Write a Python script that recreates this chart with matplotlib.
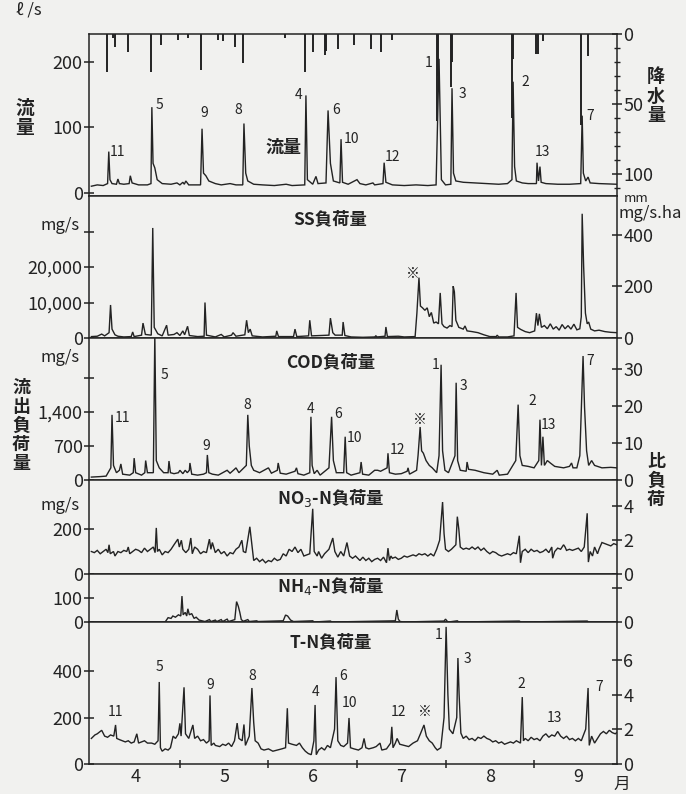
import matplotlib.pyplot as plt
import numpy as np

plt.rcParams['font.family'] = ['Noto Sans CJK JP', 'DejaVu Sans']
plt.rcParams['font.size'] = 11

INK = '#232323'
PAPER = '#f1f1ef'

# x is in days from 1 April, each month drawn 30 days wide
month_edges = [30, 60, 90, 120, 150]
month_mid = [15, 45, 75, 105, 135, 165]
month_names = ['4', '5', '6', '7', '8', '9']

# 流量 (l/s)
flow = [(0, 10), (2, 12), (4, 11), (5.5, 14), (5.9, 63), (6.3, 20), (7, 14), (8.5, 13),
        (9, 21), (9.5, 14), (11, 13), (12.8, 14), (13.2, 26), (13.8, 15), (16, 12), (19, 12),
        (20.2, 14), (20.5, 131), (20.9, 45), (21.5, 38), (22.3, 20), (24, 14), (27, 13),
        (29, 15), (30, 12), (31, 16), (31.5, 13), (32, 18), (33, 12), (37, 12), (37.5, 98),
        (38, 30), (38.8, 26), (39.8, 18), (42, 14), (44, 12), (47, 14), (49, 12), (51.3, 12),
        (51.7, 106), (52.3, 30), (53, 18), (55, 13), (58, 12), (62, 11), (66, 13), (68, 11),
        (72.3, 12), (72.7, 149), (73.2, 20), (75, 13), (76.1, 25), (76.8, 14), (79.5, 15),
        (80.2, 126), (81, 45), (82, 18), (84.2, 15), (84.6, 82), (85.1, 16), (87, 13),
        (90, 20), (91, 14), (93, 12), (95.4, 15), (96, 12), (98.8, 14), (99.2, 46), (99.8, 16),
        (102, 12), (106, 11), (110, 12), (114, 11), (116.8, 12), (117.8, 205), (118.6, 20),
        (120, 12), (121.8, 13), (122.2, 160), (122.7, 30), (123.5, 18), (126, 16), (130, 15),
        (134, 14), (138, 13), (141, 14), (142.5, 20), (142.9, 170), (143.4, 40), (144, 18),
        (146, 15), (148, 14), (150.8, 14), (151, 46), (151.5, 18), (152, 40), (152.4, 16),
        (154, 14), (158, 13), (162, 13), (165.8, 14), (166.3, 118), (166.7, 30), (167.5, 18),
        (168.3, 24), (169, 15), (172, 14), (178, 13)]

# 降水量 (mm)
rain = [(5.3, 27), (7.3, 3), (8.0, 9), (12.4, 13), (20.2, 27), (23.6, 8), (29.3, 4),
        (32.7, 3), (37.1, 26), (42.9, 4), (44.6, 5), (48.6, 9), (51.4, 21), (65.6, 3),
        (72.4, 27), (75.1, 13), (79.2, 15), (79.6, 12), (83.6, 11), (89.0, 8), (94.7, 11),
        (98.1, 13), (101.9, 4), (117.1, 62), (117.5, 30), (121.9, 38), (122.2, 20),
        (142.5, 60), (142.8, 18), (150.7, 14), (151.4, 14), (153.1, 5), (166.0, 65),
        (168.3, 16)]

# SS負荷量 (mg/s)
ss = [(0, 400), (2, 500), (3.5, 1100), (4.5, 600), (6, 1500), (6.5, 9300), (7, 2500),
      (8, 900), (9, 500), (11, 300), (13.5, 400), (14, 1700), (14.5, 400), (17, 800),
      (17.5, 4200), (18.3, 1000), (20.3, 800), (20.8, 31000), (21.3, 3000), (22.5, 1200),
      (24, 600), (25.5, 3600), (26, 800), (28, 1000), (29, 1500), (30, 700), (31, 2000),
      (31.6, 900), (32.6, 3300), (33.2, 700), (36, 400), (38.2, 500), (38.5, 10000),
      (39, 800), (42, 300), (44, 1000), (45, 300), (47.5, 800), (48, 1500), (49, 500),
      (52, 900), (52.6, 5000), (53.2, 1500), (53.8, 2500), (54.5, 600), (58, 300),
      (62.5, 500), (62.8, 2000), (63.4, 400), (68.5, 400), (69, 2500), (69.6, 400),
      (73.6, 600), (74, 5000), (74.6, 600), (80.5, 800), (81, 5600), (81.8, 1500),
      (82.6, 800), (85, 800), (85.3, 4500), (85.9, 700), (88, 300), (92, 200), (96, 300),
      (96.4, 600), (96.8, 300), (99.5, 500), (99.8, 3100), (100.3, 400), (104, 500),
      (106, 300), (109.7, 400), (110.3, 7000), (111, 17000), (111.5, 9000), (112.2, 8500),
      (113, 7800), (113.8, 8500), (114.5, 6000), (115.2, 7200), (116, 4200), (116.8, 4500),
      (117.6, 4000), (118.2, 12700), (118.8, 4000), (119.5, 3200), (120.5, 2800),
      (121.5, 3500), (122.2, 3200), (122.6, 14600), (123, 13000), (123.5, 5000),
      (124.5, 3000), (126, 2500), (126.6, 3400), (127.3, 2000), (129, 1800), (131, 1500),
      (133, 900), (135, 400), (137.2, 400), (137.5, 800), (138, 300), (141, 300),
      (143.2, 600), (143.9, 12700), (144.4, 3000), (145.5, 2400), (147, 1800),
      (148.5, 1500), (150.2, 2000), (150.8, 7000), (151.3, 3500), (151.8, 6800),
      (152.5, 3000), (153.5, 3500), (154.5, 2600), (155.5, 4000), (156.5, 2500),
      (157.5, 3200), (158.5, 2200), (159.5, 3800), (160.5, 2600), (161.5, 3500),
      (162.5, 2500), (163.5, 3900), (164.5, 2300), (165.5, 2600), (166.0, 6000),
      (166.3, 35000), (166.8, 20000), (167.4, 7000), (168, 4000), (168.5, 4500),
      (169.2, 2500), (170.5, 2000), (172, 2200), (174, 1800), (176, 1600), (178, 1500)]

# COD負荷量 (mg/s)
cod = [(0, 60), (3, 70), (5, 80), (6.6, 250), (7, 1340), (7.5, 300), (8.5, 150), (9.5, 200),
       (10, 330), (10.6, 120), (13, 100), (14.2, 150), (14.5, 450), (15, 150), (17, 100),
       (18.1, 150), (18.4, 400), (19, 150), (21, 150), (21.5, 3000), (22, 400), (23, 250),
       (24.5, 150), (26, 150), (26.3, 390), (26.8, 150), (28, 130), (29.5, 150), (30, 200),
       (31, 130), (31.8, 200), (32.5, 150), (33.2, 200), (33.4, 350), (34, 120), (36, 100),
       (38, 120), (39, 150), (39.3, 515), (39.8, 150), (41, 120), (43, 100), (44.5, 150),
       (46, 200), (47, 140), (48.5, 220), (49, 250), (50, 150), (52.5, 300), (53, 1340),
       (53.5, 700), (54.2, 300), (55, 200), (57, 150), (60, 250), (61, 140), (63, 200),
       (63.3, 350), (64, 140), (66, 120), (69, 180), (69.5, 250), (70, 130), (72, 100),
       (74, 150), (74.4, 1300), (74.8, 300), (75.5, 130), (76.5, 200), (77.5, 100),
       (80.5, 250), (81.4, 1300), (82, 400), (83, 150), (85.5, 150), (86, 890), (86.5, 150),
       (88, 100), (91, 150), (91.4, 370), (91.9, 120), (94, 100), (96, 200), (97, 200),
       (98, 180), (100.2, 250), (100.5, 550), (101, 150), (103, 120), (105, 130), (107, 180),
       (107.3, 250), (107.8, 120), (110.2, 200), (110.7, 510), (111.4, 1090), (111.9, 600),
       (112.5, 550), (113.4, 400), (114.5, 300), (115.5, 250), (117, 150), (117.8, 500),
       (118.5, 2370), (119, 600), (119.8, 200), (121, 150), (123.2, 500), (123.6, 2000),
       (124.1, 400), (125, 200), (127, 180), (127.3, 370), (127.8, 220), (130, 200),
       (133, 150), (136, 120), (137.5, 200), (138.2, 100), (141, 120), (143.8, 400),
       (144.6, 1550), (145.2, 500), (146, 300), (148, 280), (150, 250), (151.6, 400),
       (152, 1240), (152.5, 300), (153, 890), (153.5, 300), (154.5, 400), (155.5, 350),
       (157, 280), (160, 250), (162, 280), (162.7, 350), (163.2, 250), (164.5, 250),
       (165.5, 500), (166.6, 2550), (167.1, 1500), (167.8, 600), (168.5, 300), (169.5, 400),
       (170.5, 300), (173, 250), (176, 260), (178, 250)]

# NO3-N負荷量 (mg/s)
no3 = [(0, 100), (1, 95), (2, 105), (3, 90), (4, 100), (5, 110), (5.6, 95), (6, 130),
       (6.4, 90), (7.5, 100), (8, 80), (9, 100), (10, 95), (11, 105), (12, 100), (12.5, 120),
       (13, 90), (14, 100), (15, 110), (16, 105), (17, 95), (18, 115), (19, 100), (20, 110),
       (21, 120), (21.6, 95), (22, 205), (22.4, 100), (23, 110), (24, 85), (25, 100),
       (26, 95), (27, 110), (28, 130), (29.3, 155), (29.8, 120), (30.5, 150), (31, 110),
       (32, 95), (33, 110), (33.7, 160), (34.2, 90), (35, 120), (36, 110), (37, 90),
       (38, 100), (39, 95), (40, 155), (40.5, 110), (41, 140), (42, 95), (43, 110), (44, 90),
       (45, 100), (46, 80), (47, 95), (48, 90), (49, 110), (50, 120), (51, 150), (51.5, 100),
       (52.3, 95), (53.7, 210), (54.5, 120), (55, 60), (56, 70), (57, 55), (58, 65), (59, 50),
       (60, 60), (61, 55), (62, 70), (63, 60), (64, 65), (65, 90), (66, 80), (67, 110),
       (68, 100), (69, 120), (70, 95), (71, 110), (72, 80), (74, 90), (75, 290), (75.5, 100),
       (76.5, 80), (77, 100), (78, 70), (79, 90), (80.5, 110), (81.8, 160), (82.5, 100),
       (83.5, 75), (84.5, 100), (85.5, 80), (86.6, 140), (87.5, 80), (88.5, 70), (89.5, 80),
       (91, 60), (92, 75), (93, 60), (94, 70), (95, 55), (96, 65), (97, 70), (98, 60),
       (99, 75), (100, 50), (100.5, 115), (101, 60), (101.5, 80), (102, 70), (103, 75),
       (104, 65), (105, 70), (106, 80), (107, 75), (108, 80), (109, 85), (110, 80), (111, 90),
       (112, 85), (113, 90), (114, 80), (115, 90), (116, 80), (117, 110), (118, 150),
       (119, 320), (119.5, 180), (120, 110), (121, 100), (122, 110), (123.5, 130), (124, 255),
       (124.5, 200), (125, 120), (126, 110), (127, 115), (128, 110), (129, 120), (130, 110),
       (131, 120), (132, 105), (133, 115), (134, 100), (135, 90), (136, 100), (137, 95),
       (138, 85), (139, 80), (140, 85), (141, 90), (142, 85), (143, 95), (144, 90), (145, 170),
       (145.4, 50), (146, 100), (147, 110), (148, 95), (149, 110), (150, 100), (151, 105),
       (152, 95), (153, 100), (154, 110), (155, 95), (156, 120), (156.3, 70), (157, 100),
       (158, 115), (159, 110), (160, 130), (160.5, 120), (161, 105), (162, 110), (163, 105),
       (164, 110), (165, 115), (166, 100), (167, 120), (168, 270), (168.4, 53), (169, 100),
       (169.8, 80), (170.5, 120), (171.5, 90), (172, 110), (173, 140), (174, 135), (175, 130),
       (176, 125), (177, 135), (178, 130)]

# NH4-N負荷量 (mg/s)
nh4 = [(0, 0), (25, 0), (26, 18), (27, 15), (27.6, 25), (28.5, 20), (29.5, 30), (30.3, 25),
       (30.7, 108), (31.1, 30), (31.8, 40), (32.3, 25), (32.7, 55), (33.2, 30), (34, 35),
       (34.8, 15), (35.5, 20), (36.5, 8), (37.5, 5), (38.5, 2), (40, 10), (40.5, 2), (42, 8),
       (42.5, 2), (44, 10), (44.5, 2), (46, 12), (46.5, 2), (48.6, 10), (49.2, 85),
       (49.8, 65), (50.3, 40), (50.8, 10), (51.5, 3), (53, 10), (53.5, 2), (56, 5),
       (56.5, 2), (65, 5), (65.8, 29), (66.5, 25), (67.5, 8), (68.5, 2), (75, 5), (75.5, 0),
       (81, 4), (81.5, 0), (103, 5), (103.5, 50), (104, 12), (104.5, 3), (105.5, 0),
       (119.5, 4), (120, 12), (120.5, 4), (121, 0), (124, 5), (124.5, 0), (145, 4),
       (145.5, 0), (168, 4), (168.5, 0), (178, 0)]

# T-N負荷量 (mg/s)
tn = [(0, 110), (1.2, 125), (2, 130), (3.5, 145), (4.5, 120), (5.5, 115), (6.5, 125),
      (7.6, 120), (8.2, 168), (8.6, 110), (9.5, 105), (10.5, 100), (11.5, 95), (12.5, 100),
      (13.5, 90), (14.5, 95), (15.4, 130), (16, 90), (17, 95), (18, 100), (19, 90),
      (20.4, 90), (21.5, 85), (22.6, 100), (23, 353), (23.4, 70), (24, 55), (25, 65),
      (26, 60), (26.8, 70), (27.7, 120), (28.5, 110), (29.5, 130), (30, 175), (30.4, 120),
      (31.4, 330), (31.9, 130), (33, 110), (34.4, 168), (35, 110), (36, 120), (37, 100),
      (38, 105), (39, 90), (39.9, 100), (40.2, 295), (40.6, 80), (41.5, 90), (42, 80),
      (43.5, 75), (44.5, 85), (45.5, 80), (46.5, 90), (47.5, 75), (48.5, 100), (49.4, 176),
      (50, 110), (51.1, 100), (51.7, 170), (52.2, 80), (53.5, 120), (54.4, 327), (55, 180),
      (55.5, 100), (56.5, 90), (57.5, 65), (58.5, 60), (60, 65), (61.5, 55), (63, 60),
      (64.5, 65), (65.8, 70), (66.4, 240), (66.8, 90), (68, 85), (69.5, 80), (70.5, 90),
      (71.5, 70), (72.5, 55), (73.5, 45), (74.5, 40), (75.4, 100), (75.8, 254), (76.2, 40),
      (77, 60), (78, 70), (79, 60), (80, 80), (81, 70), (82.4, 150), (82.9, 374), (83.5, 100),
      (84.5, 80), (85.5, 75), (86.8, 90), (87.3, 198), (87.8, 70), (89, 65), (90.5, 60),
      (91.7, 70), (92.4, 110), (93, 70), (94, 65), (95.5, 70), (96.5, 75), (97.8, 90),
      (98.4, 60), (100, 65), (101.4, 90), (101.8, 160), (102.2, 70), (103, 90), (103.6, 110),
      (104.5, 85), (106, 80), (107.5, 75), (109, 90), (110.5, 100), (111.5, 130),
      (112.7, 168), (113.5, 120), (114.5, 100), (115.5, 90), (116.5, 70), (117.2, 60),
      (118.4, 70), (119.5, 200), (120.2, 590), (120.8, 300), (121.3, 150), (122.5, 130),
      (123.8, 200), (124.2, 456), (124.6, 300), (125.2, 133), (126, 110), (127, 120),
      (128, 105), (129, 110), (130, 100), (131, 115), (132, 110), (133, 120), (134, 110),
      (135, 105), (136, 95), (137, 100), (138, 90), (139, 95), (140, 85), (141, 90),
      (142, 95), (143, 90), (144, 100), (145.4, 90), (146, 288), (146.4, 100), (147, 110),
      (148, 100), (149, 115), (150, 105), (151, 110), (152, 100), (153, 120), (154, 130),
      (155, 115), (156, 125), (157, 120), (158, 140), (159, 120), (160, 110), (161, 120),
      (162, 105), (163, 110), (164, 100), (165, 110), (166, 100), (167.5, 150),
      (168.3, 327), (168.7, 80), (169.5, 120), (170.5, 90), (171.5, 110), (172.5, 130),
      (173.5, 140), (174.5, 130), (175.5, 145), (176.5, 135), (177.5, 130), (178, 135)]

# event numbers written next to the peaks: (label, day, value)
flow_marks = [('11', 9.0, 63), ('5', 23.2, 135), ('9', 38.3, 122), ('8', 49.7, 126),
              ('4', 70.3, 149), ('6', 82.9, 126), ('10', 88.3, 82), ('12', 101.9, 54),
              ('1', 114.4, 198), ('3', 125.6, 151), ('2', 147, 169), ('13', 152.7, 62),
              ('7', 169, 118)]
cod_marks = [('11', 10.7, 1277), ('5', 24.9, 2163), ('9', 38.8, 700), ('8', 52.7, 1545),
             ('4', 74.4, 1463), ('6', 83.6, 1360), ('10', 89.3, 865), ('12', 103.6, 618),
             ('※', 111.4, 1236), ('1', 116.8, 2369), ('3', 126, 1936), ('2', 149.3, 1627),
             ('13', 154.8, 1133), ('7', 169, 2450)]
tn_marks = [('11', 8.3, 224), ('5', 23.2, 417), ('9', 40.2, 340), ('8', 54.4, 378),
            ('4', 75.8, 310), ('6', 85.3, 378), ('10', 87.6, 262), ('12', 103.9, 224),
            ('※', 113, 224), ('1', 117.8, 555), ('3', 127.3, 452), ('2', 145.6, 344),
            ('13', 156.8, 198), ('7', 172, 331)]


W, H = 686, 794
fig = plt.figure(figsize=(W / 100, H / 100), dpi=100, facecolor=PAPER)
TICK_SIZE = 13


def fpos(x, y):
    return x / W, 1 - y / H


def panel(top, bottom, ylim):
    left, right = 89, 617
    ax = fig.add_axes([left / W, 1 - bottom / H, (right - left) / W, (bottom - top) / H])
    ax.set_facecolor(PAPER)
    ax.set_xlim(-0.8, 178.1)
    ax.set_ylim(*ylim)
    for s in ax.spines.values():
        s.set_color(INK)
        s.set_linewidth(1.1)
    ax.tick_params(axis='y', direction='inout', length=7, width=1.1, colors=INK,
                   labelsize=TICK_SIZE, pad=1)
    ax.tick_params(axis='x', bottom=False, labelbottom=False)
    return ax


def right_axis(ax, ylim, ticks, labels=None):
    rx = ax.twinx()
    rx.set_ylim(*ylim)
    rx.set_yticks(ticks)
    if labels is not None:
        rx.set_yticklabels(labels)
    rx.tick_params(axis='y', direction='inout', length=7, width=1.1, colors=INK,
                   labelsize=TICK_SIZE, pad=1)
    for s in rx.spines.values():
        s.set_visible(False)
    return rx


def trace(ax, series, lw=1.0):
    d = np.array(series, dtype=float)
    ax.plot(d[:, 0], d[:, 1], color=INK, lw=lw, solid_joinstyle='miter')


def marks(ax, items, size=10):
    for lab, x, y in items:
        ax.text(x, y, lab, fontsize=size, color=INK, ha='center', va='center')


def title(ax, x, y, s):
    ax.text(x, y, s, fontsize=12.5, fontweight='bold', color=INK, ha='center', va='center')


# flow with rainfall hanging from the top
ax1 = panel(34, 196, (-5, 243))
trace(ax1, flow)
ax1.set_yticks([0, 100, 200])
marks(ax1, flow_marks)
ax1.text(65, 69, '流量', fontsize=13, fontweight='bold', color=INK, ha='center', va='center')
r1 = right_axis(ax1, (116, 0), [0, 50, 100])
r1.set_yticks(np.arange(0, 111, 10), minor=True)
r1.tick_params(axis='y', which='minor', direction='inout', length=4, width=1, colors=INK)
rd = np.array(rain, dtype=float)
r1.vlines(rd[:, 0], 0, rd[:, 1], color=INK, lw=1.4)

# SS
ax2 = panel(196, 338, (0, 40000))
trace(ax2, ss)
ax2.set_yticks([0, 10000, 20000, 30000])
ax2.set_yticklabels(['0', '10,000', '20,000', ''])
title(ax2, 81, 33500, 'SS負荷量')
ax2.text(109, 18000, '※', fontsize=10, color=INK, ha='center', va='center')
right_axis(ax2, (0, 551), [0, 200, 400])

# COD
ax3 = panel(338, 480, (0, 2920))
trace(ax3, cod)
ax3.set_yticks([0, 700, 1400, 2100])
ax3.set_yticklabels(['0', '700', '1,400', ''])
title(ax3, 81, 2430, 'COD負荷量')
marks(ax3, cod_marks)
right_axis(ax3, (0, 38.4), [0, 10, 20, 30])

# NO3-N
ax4 = panel(480, 574, (0, 418))
trace(ax4, no3)
ax4.set_yticks([0, 200])
title(ax4, 81, 340, 'NO$_3$-N負荷量')
right_axis(ax4, (0, 5.53), [0, 2, 4])

# NH4-N
ax5 = panel(574, 622, (0, 200))
trace(ax5, nh4)
ax5.set_yticks([0, 100])
title(ax5, 81, 150, 'NH$_4$-N負荷量')
right_axis(ax5, (0, 2.82), [0, 2], ['0', ''])

# T-N
ax6 = panel(622, 764, (0, 611))
trace(ax6, tn)
ax6.set_yticks([0, 200, 400])
title(ax6, 81, 522, 'T-N負荷量')
marks(ax6, tn_marks)
right_axis(ax6, (0, 8.23), [0, 2, 4, 6])
ax6.set_xticks(month_edges)
ax6.set_xticks(month_mid, minor=True)
ax6.set_xticklabels(month_names, minor=True)
ax6.tick_params(axis='x', which='major', bottom=True, direction='inout', length=6, width=1.1,
                colors=INK, labelbottom=False)
ax6.tick_params(axis='x', which='minor', bottom=True, length=0, labelbottom=True,
                labelsize=TICK_SIZE, colors=INK, pad=3)

# axis captions around the frame
fig.text(*fpos(29, 10), 'ℓ /s', fontsize=12, color=INK, ha='center', va='center')
fig.text(*fpos(25, 118), '流\n量', fontsize=13.5, fontweight='bold', color=INK,
         ha='center', va='center', linespacing=1.0)
fig.text(*fpos(656, 96), '降\n水\n量', fontsize=13, fontweight='bold', color=INK,
         ha='center', va='center', linespacing=1.0)
fig.text(*fpos(624, 198), 'mm', fontsize=9.5, color=INK, ha='left', va='center')
fig.text(*fpos(618, 213), 'mg/s.ha', fontsize=12, color=INK, ha='left', va='center')
fig.text(*fpos(80, 226), 'mg/s', fontsize=12, color=INK, ha='right', va='center')
fig.text(*fpos(80, 357), 'mg/s', fontsize=12, color=INK, ha='right', va='center')
fig.text(*fpos(80, 505), 'mg/s', fontsize=12, color=INK, ha='right', va='center')
fig.text(*fpos(21, 425), '流\n出\n負\n荷\n量', fontsize=13, fontweight='bold', color=INK,
         ha='center', va='center', linespacing=1.0)
fig.text(*fpos(656, 480), '比\n負\n荷', fontsize=13, fontweight='bold', color=INK,
         ha='center', va='center', linespacing=1.0)
fig.text(*fpos(622, 784), '月', fontsize=12, color=INK, ha='center', va='center')

fig.savefig('out.png', dpi=100, facecolor=PAPER)
